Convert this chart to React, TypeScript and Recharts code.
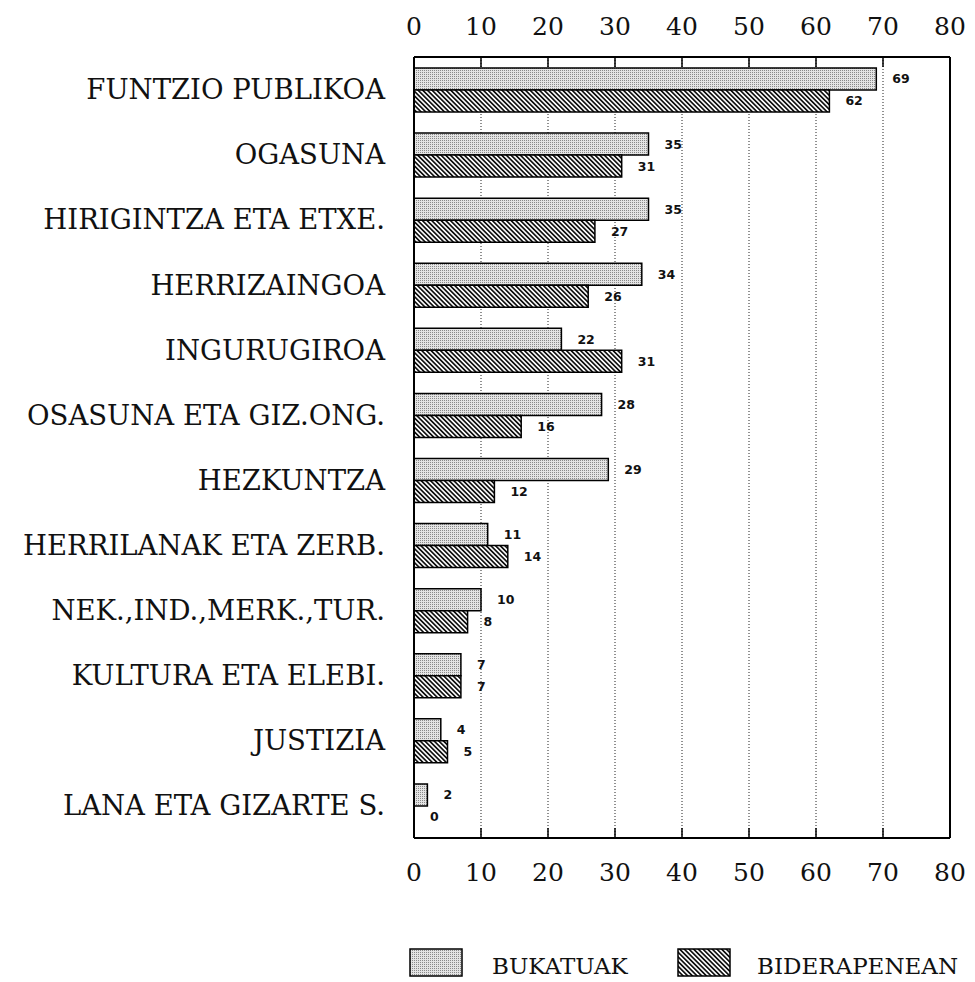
import React from 'react';
import { BarChart, Bar, XAxis, YAxis, CartesianGrid, LabelList, ReferenceLine } from 'recharts';

const categories = [
  'FUNTZIO PUBLIKOA',
  'OGASUNA',
  'HIRIGINTZA ETA ETXE.',
  'HERRIZAINGOA',
  'INGURUGIROA',
  'OSASUNA ETA GIZ.ONG.',
  'HEZKUNTZA',
  'HERRILANAK ETA ZERB.',
  'NEK.,IND.,MERK.,TUR.',
  'KULTURA ETA ELEBI.',
  'JUSTIZIA',
  'LANA ETA GIZARTE S.',
];
const bukatuak = [69, 35, 35, 34, 22, 28, 29, 11, 10, 7, 4, 2];
const biderapenean = [62, 31, 27, 26, 31, 16, 12, 14, 8, 7, 5, 0];
const xTicks = [0, 10, 20, 30, 40, 50, 60, 70, 80];
const seriesNames = ['BUKATUAK', 'BIDERAPENEAN'];

const data = categories.map((name, i) => ({
  name,
  bukatuak: bukatuak[i],
  biderapenean: biderapenean[i],
}));

const SERIF = '"DejaVu Serif", "Liberation Serif", serif';
const SANS = '"DejaVu Sans", "Liberation Sans", sans-serif';

const PatternDefs = ({ prefix }: { prefix: string }) => (
  <defs>
    <pattern id={`${prefix}dots`} width="2" height="2" patternUnits="userSpaceOnUse">
      <rect width="2" height="2" fill="#e4e4e4" />
      <rect x="0" y="0" width="1" height="1" fill="#8a8a8a" />
    </pattern>
    <pattern
      id={`${prefix}hatch`}
      width="3.3"
      height="10"
      patternUnits="userSpaceOnUse"
      patternTransform="rotate(-45)"
    >
      <rect width="3.3" height="10" fill="#ffffff" />
      <rect x="0" y="0" width="1.7" height="10" fill="#111111" />
    </pattern>
  </defs>
);

export default function App() {
  return (
    <div style={{ position: 'absolute', left: 0, top: 0, width: 975, height: 982, background: '#fff' }}>
      <BarChart
        width={975}
        height={982}
        data={data}
        layout="vertical"
        margin={{ top: 0, right: 25, bottom: 0, left: 0 }}
        barGap={0}
      >
        <PatternDefs prefix="c-" />
        <CartesianGrid horizontal={false} stroke="#222" strokeDasharray="1 2" strokeWidth={1} />
        <XAxis
          type="number"
          orientation="top"
          domain={[0, 80]}
          allowDataOverflow
          ticks={xTicks}
          height={57}
          axisLine={{ stroke: '#000', strokeWidth: 2 }}
          tickLine={{ stroke: '#000', strokeWidth: 1.5 }}
          tickSize={-10}
          tickMargin={32}
          tick={{ fontSize: 25, fontFamily: SERIF, fill: '#111' }}
          interval={0}
        />
        <XAxis
          xAxisId="bottom"
          type="number"
          orientation="bottom"
          domain={[0, 80]}
          allowDataOverflow
          ticks={xTicks}
          height={144}
          axisLine={{ stroke: '#000', strokeWidth: 2 }}
          tickLine={{ stroke: '#000', strokeWidth: 1.5 }}
          tickSize={-10}
          tickMargin={35}
          tick={{ fontSize: 25, fontFamily: SERIF, fill: '#111' }}
          interval={0}
        />
        <YAxis
          type="category"
          dataKey="name"
          width={414}
          tickLine={false}
          tickSize={0}
          tickMargin={29}
          axisLine={{ stroke: '#000', strokeWidth: 2 }}
          tick={{ fontSize: 27.5, fontFamily: SERIF, fill: '#111' }}
          interval={0}
        />
        <ReferenceLine x={80} stroke="#000" strokeWidth={2} />
        <Bar
          dataKey="bukatuak"
          name={seriesNames[0]}
          fill="url(#c-dots)"
          stroke="#000"
          strokeWidth={1.5}
          barSize={22}
          minPointSize={0.01}
          isAnimationActive={false}
        >
          <LabelList
            dataKey="bukatuak"
            position="right"
            offset={16}
            style={{ fontSize: 12.5, fontFamily: SANS, fontWeight: 700, fill: '#111' }}
          />
        </Bar>
        <Bar
          dataKey="biderapenean"
          name={seriesNames[1]}
          fill="url(#c-hatch)"
          stroke="#000"
          strokeWidth={1.5}
          barSize={22}
          minPointSize={0.01}
          isAnimationActive={false}
        >
          <LabelList
            dataKey="biderapenean"
            position="right"
            offset={16}
            style={{ fontSize: 12.5, fontFamily: SANS, fontWeight: 700, fill: '#111' }}
          />
        </Bar>
      </BarChart>
      <svg
        width={975}
        height={982}
        style={{ position: 'absolute', left: 0, top: 0, pointerEvents: 'none' }}
      >
        <PatternDefs prefix="l-" />
        <rect x={410} y={949} width={52} height={27} fill="url(#l-dots)" stroke="#000" strokeWidth={1.5} />
        <text x={492} y={974} fontFamily={SERIF} fontSize={23} fill="#111">
          {seriesNames[0]}
        </text>
        <rect x={678} y={949} width={52} height={27} fill="url(#l-hatch)" stroke="#000" strokeWidth={1.5} />
        <text x={757} y={974} fontFamily={SERIF} fontSize={23} fill="#111">
          {seriesNames[1]}
        </text>
      </svg>
    </div>
  );
}
